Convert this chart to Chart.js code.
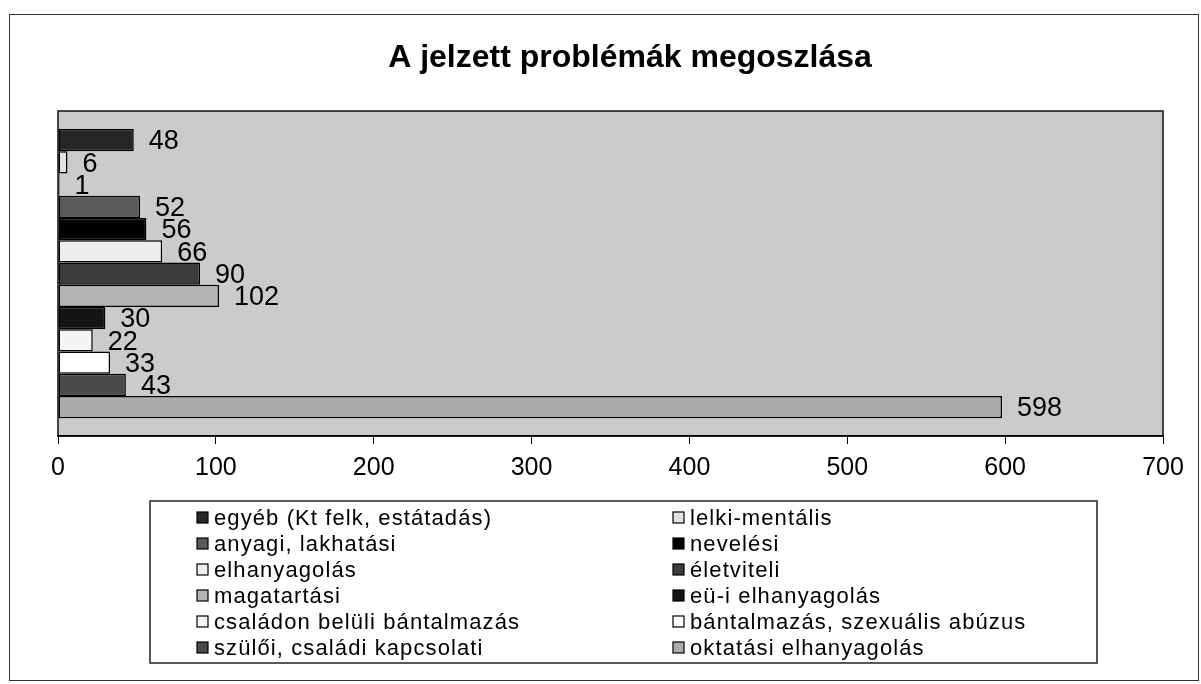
<!DOCTYPE html>
<html>
<head>
<meta charset="utf-8">
<script src="https://cdn.jsdelivr.net/npm/chart.js@4"></script>
<style>
  html, body { margin: 0; padding: 0; background: #fff; }
  #wrap { width: 1201px; height: 684px; }
</style>
</head>
<body>
<div id="wrap"><canvas id="chartCanvas" width="1201" height="684"></canvas></div>
<script>
// --- data (top bar first) ---
const chartTitle = "A jelzett problémák megoszlása";
const categories = [""];
const seriesLabels = [
  "egyéb (Kt felk, estátadás)",
  "lelki-mentális",
  "",                       // the "1" bar has no legend entry
  "anyagi, lakhatási",
  "nevelési",
  "elhanyagolás",
  "életviteli",
  "magatartási",
  "eü-i elhanyagolás",
  "családon belüli bántalmazás",
  "bántalmazás, szexuális abúzus",
  "szülői, családi kapcsolati",
  "oktatási elhanyagolás"
];
const seriesValues = [48, 6, 1, 52, 56, 66, 90, 102, 30, 22, 33, 43, 598];
const seriesColors = [
  "#262626", "#e4e4e4", "#ffffff", "#5a5a5a", "#000000", "#eeeeee", "#3c3c3c",
  "#b4b4b4", "#141414", "#f5f5f5", "#ffffff", "#4a4a4a", "#ababab"
];
const xMin = 0, xMax = 700, xStep = 100;

const FONT = "'Liberation Sans', Arial, sans-serif";

// --- plugins: frame, plot background, title, value labels, legend box ---
const framePlugin = {
  id: "frame",
  beforeDraw(chart) {
    const { ctx, chartArea: a } = chart;
    ctx.save();
    ctx.fillStyle = "#fff";
    ctx.fillRect(0, 0, chart.width, chart.height);
    ctx.strokeStyle = "#333";
    ctx.lineWidth = 1;
    ctx.strokeRect(9.5, 14.5, 1189, 666);
    // plot area
    ctx.fillStyle = "#cbcbcb";
    ctx.fillRect(a.left, a.top, a.right - a.left, a.bottom - a.top);
    ctx.strokeStyle = "#111";
    ctx.lineWidth = 1.5;
    ctx.strokeRect(a.left, a.top, a.right - a.left, a.bottom - a.top);
    // title
    ctx.fillStyle = "#000";
    ctx.font = "bold 32px " + FONT;
    ctx.textAlign = "center";
    ctx.textBaseline = "middle";
    ctx.fillText(chartTitle, 630, 58);
    ctx.restore();
  }
};

const valueLabels = {
  id: "valueLabels",
  afterDatasetsDraw(chart) {
    const { ctx } = chart;
    ctx.save();
    ctx.fillStyle = "#000";
    ctx.font = "27px " + FONT;
    ctx.textAlign = "left";
    ctx.textBaseline = "middle";
    chart.data.datasets.forEach((ds, i) => {
      const bar = chart.getDatasetMeta(i).data[0];
      ctx.fillText(String(ds.data[0]), bar.x + 15, bar.y + 2);
    });
    ctx.restore();
  }
};

const legendBox = {
  id: "legendBox",
  afterDraw(chart) {
    const { ctx } = chart;
    const items = chart.data.datasets.filter(ds => ds.label !== "");
    ctx.save();
    ctx.fillStyle = "#fff";
    ctx.fillRect(150, 501, 947, 162);
    ctx.strokeStyle = "#222";
    ctx.lineWidth = 1.5;
    ctx.strokeRect(150, 501, 947, 162);
    ctx.font = "22px " + FONT;
    ctx.letterSpacing = "1.1px";
    ctx.textBaseline = "middle";
    ctx.textAlign = "left";
    items.forEach((ds, i) => {
      const col = i % 2, row = Math.floor(i / 2);
      const x = col === 0 ? 197 : 673;
      const y = 518 + row * 26;
      ctx.fillStyle = ds.backgroundColor;
      ctx.fillRect(x, y - 6, 11, 11);
      ctx.strokeStyle = "#000";
      ctx.lineWidth = 1.2;
      ctx.strokeRect(x, y - 6, 11, 11);
      ctx.fillStyle = "#000";
      ctx.fillText(ds.label, x + 17, y + 1);
    });
    ctx.restore();
  }
};

const datasets = seriesLabels.map((label, i) => ({
  label,
  data: [seriesValues[i]],
  backgroundColor: seriesColors[i],
  borderColor: "#000",
  borderWidth: 1.5,
  borderSkipped: false
}));

new Chart(document.getElementById("chartCanvas"), {
  type: "bar",
  data: { labels: categories, datasets },
  plugins: [framePlugin, valueLabels, legendBox],
  options: {
    indexAxis: "y",
    responsive: false,
    animation: false,
    layout: { padding: { left: 58, right: 38, top: 111, bottom: 192 } },
    plugins: {
      legend: { display: false },
      title: { display: false },
      tooltip: { enabled: false }
    },
    datasets: { bar: { categoryPercentage: 0.89, barPercentage: 1 } },
    scales: {
      x: {
        min: xMin,
        max: xMax,
        ticks: { stepSize: xStep, color: "#000", padding: 9, font: { size: 25, family: FONT } },
        grid: { drawOnChartArea: false, tickLength: 8, color: "#000" },
        border: { display: true, color: "#000", width: 1.5 }
      },
      y: {
        display: false
      }
    }
  }
});
</script>
</body>
</html>
